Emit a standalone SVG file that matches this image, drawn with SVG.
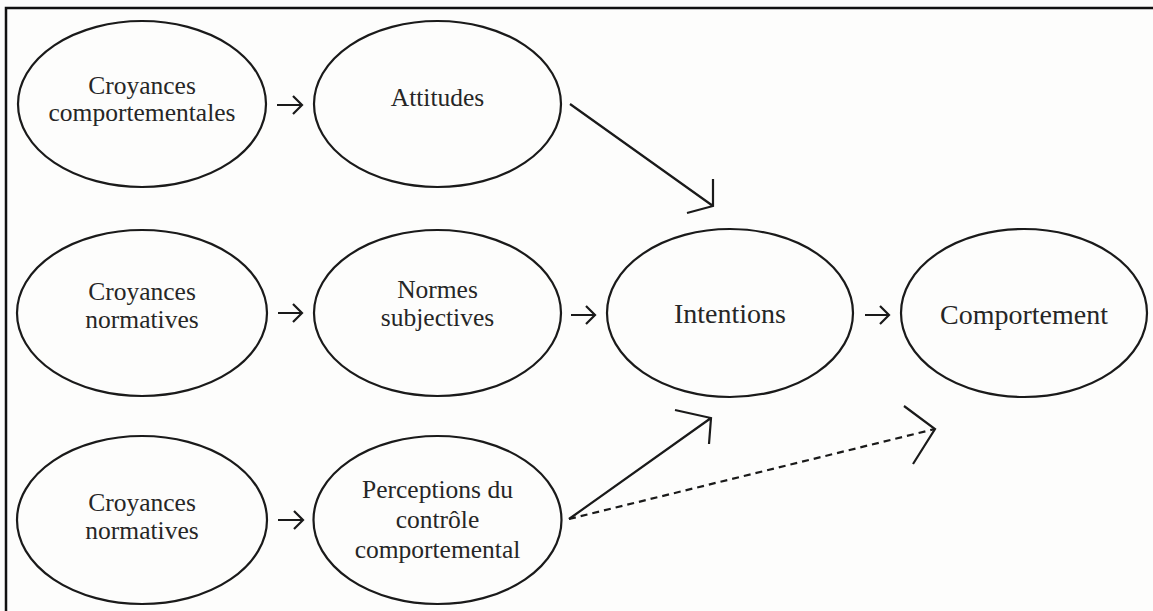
<svg xmlns="http://www.w3.org/2000/svg" width="1153" height="611" viewBox="0 0 1153 611">
<style>
.n ellipse{fill:none;stroke:#1a1a1a;stroke-width:2.2}
.t{font-family:"Liberation Serif","Times New Roman",serif;font-size:25.5px;fill:#262626;text-anchor:middle}
.tb{font-size:28px}
.c path{fill:none;stroke:#1a1a1a;stroke-width:2.2;stroke-linecap:butt;stroke-linejoin:miter}
.c .d{stroke-dasharray:7 5}
</style>
<rect x="0" y="0" width="1153" height="611" fill="#fdfdfc"/>
<path d="M6 611 V8 H1153" fill="none" stroke="#111" stroke-width="2.5"/>

<g id="croyances-comportementales" class="n">
<ellipse cx="142" cy="104" rx="124" ry="83"/>
<text class="t" x="142" y="94">Croyances</text>
<text class="t" x="142" y="121">comportementales</text>
</g>
<g id="attitudes" class="n">
<ellipse cx="437.5" cy="104" rx="123.5" ry="83"/>
<text class="t" x="437.5" y="106">Attitudes</text>
</g>
<g id="croyances-normatives-1" class="n">
<ellipse cx="142" cy="313" rx="125" ry="83"/>
<text class="t" x="142" y="300">Croyances</text>
<text class="t" x="142" y="328">normatives</text>
</g>
<g id="normes-subjectives" class="n">
<ellipse cx="437.5" cy="313" rx="123.5" ry="83"/>
<text class="t" x="437.5" y="298">Normes</text>
<text class="t" x="437.5" y="326">subjectives</text>
</g>
<g id="intentions" class="n">
<ellipse cx="730" cy="313" rx="123" ry="84"/>
<text class="t tb" x="730" y="323">Intentions</text>
</g>
<g id="comportement" class="n">
<ellipse cx="1024" cy="313" rx="123" ry="84"/>
<text class="t tb" x="1024" y="324">Comportement</text>
</g>
<g id="croyances-normatives-2" class="n">
<ellipse cx="142" cy="520" rx="125" ry="84"/>
<text class="t" x="142" y="511">Croyances</text>
<text class="t" x="142" y="539">normatives</text>
</g>
<g id="perceptions-controle" class="n">
<ellipse cx="437.5" cy="520" rx="124" ry="84"/>
<text class="t" x="437.5" y="498">Perceptions du</text>
<text class="t" x="437.5" y="528">contrôle</text>
<text class="t" x="437.5" y="558">comportemental</text>
</g>

<g id="connectors" class="c">
<path d="M277 105 H302 M293 96 L302 105 L293 114"/>
<path d="M278 313 H302 M293 304 L302 313 L293 322"/>
<path d="M571 315 H595 M586 306 L595 315 L586 324"/>
<path d="M865 315 H889 M880 306 L889 315 L880 324"/>
<path d="M278 520 H303 M294 511 L303 520 L294 529"/>
<path d="M570 104 L713 206 M713 179 L713 206 L687 213"/>
<path d="M569 519 L711 418 M675 410 L711 418 L709 444"/>
<path class="d" d="M569 519 L935 429"/>
<path d="M904 406 L935 429 L913 464"/>
</g>
</svg>
